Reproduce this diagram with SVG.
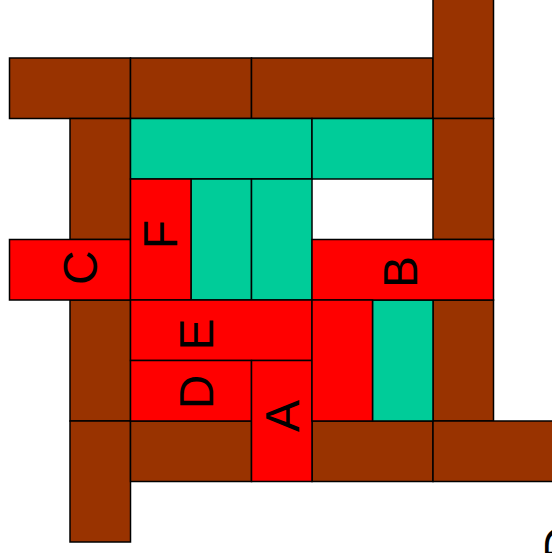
<svg xmlns="http://www.w3.org/2000/svg" width="552" height="553" viewBox="0 0 552 553">
<style>
rect{stroke:#000;stroke-width:1.5}
.br{fill:#993300}
.tl{fill:#00CC99}
.rd{fill:#FF0000}
text{font-family:"Liberation Sans",Arial,sans-serif;font-size:48px;fill:#000;text-anchor:middle}
</style>
<rect width="552" height="553" fill="#fff" style="stroke:none"/>
<g id="brown">
<rect id="b1" class="br" x="9.5" y="58" width="121" height="60.5"/>
<rect id="b2" class="br" x="130.5" y="58" width="121" height="60.5"/>
<rect id="b3" class="br" x="251.5" y="58" width="181.5" height="60.5"/>
<rect id="b4" class="br" x="433" y="-2.5" width="60.5" height="121"/>
<rect id="b5" class="br" x="433" y="118.5" width="60.5" height="121"/>
<rect id="b6" class="br" x="70" y="118.5" width="60.5" height="121"/>
<rect id="b7" class="br" x="70" y="300" width="60.5" height="121"/>
<rect id="b8" class="br" x="70" y="421" width="60.5" height="121"/>
<rect id="b9" class="br" x="130.5" y="421" width="121" height="60.5"/>
<rect id="b10" class="br" x="433" y="300" width="60.5" height="121"/>
<rect id="b11" class="br" x="312" y="421" width="121" height="60.5"/>
<rect id="b12" class="br" x="433" y="421" width="121" height="60.5"/>
</g>
<g id="teal">
<rect id="t1" class="tl" x="130.5" y="118.5" width="181.5" height="60.5"/>
<rect id="t2" class="tl" x="312" y="118.5" width="121" height="60.5"/>
<rect id="t3" class="tl" x="191" y="179" width="60.5" height="121"/>
<rect id="t4" class="tl" x="251.5" y="179" width="60.5" height="121"/>
<rect id="t5" class="tl" x="372.5" y="300" width="60.5" height="121"/>
</g>
<g id="C"><rect class="rd" x="9.5" y="239.5" width="121" height="60.5"/><text transform="translate(96.7,267.7) rotate(-90)">C</text></g>
<g id="F"><rect class="rd" x="130.5" y="179" width="60.5" height="121"/><text transform="translate(177.3,234.7) rotate(-90)">F</text></g>
<g id="B"><rect class="rd" x="312" y="239.5" width="181.5" height="60.5"/><text transform="translate(416.7,272) rotate(-90)">B</text></g>
<g id="E"><rect class="rd" x="130.5" y="300" width="181.5" height="60.5"/><text transform="translate(213,334.5) rotate(-90)">E</text></g>
<g id="D"><rect class="rd" x="130.5" y="360.5" width="121" height="60.5"/><text transform="translate(213,392) rotate(-90)">D</text></g>
<g id="A"><rect class="rd" x="251.5" y="360.5" width="60.5" height="121"/><text transform="translate(299.3,416) rotate(-90)">A</text></g>
<g id="R"><rect class="rd" x="312" y="300" width="60.5" height="121"/></g>
<g id="corner"><text transform="translate(578,543) rotate(-90)">D</text></g>
<g id="connectors"></g>
</svg>
